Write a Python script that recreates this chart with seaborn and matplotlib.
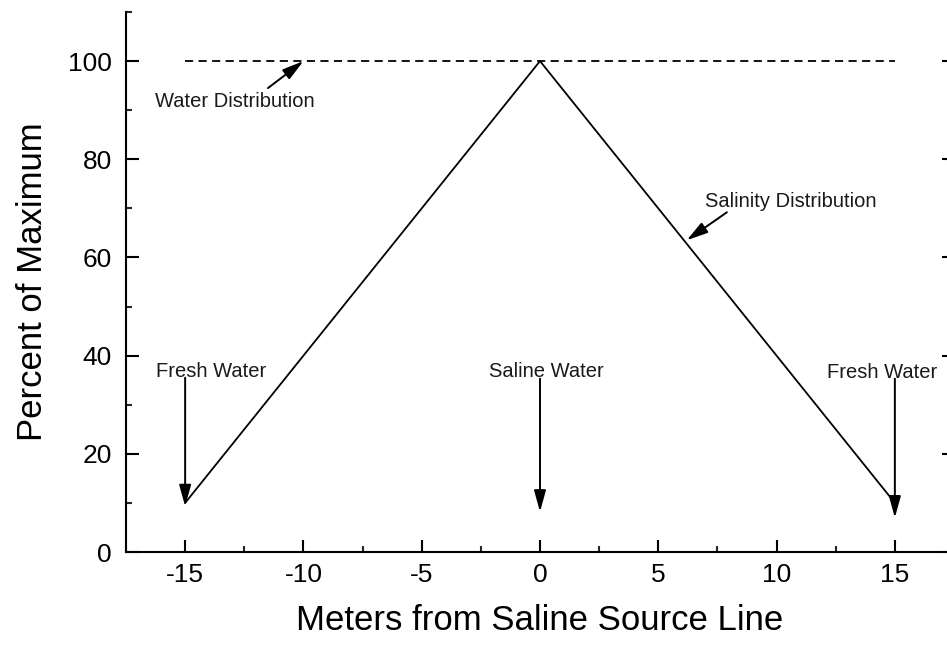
import matplotlib
matplotlib.use("Agg")
import matplotlib.pyplot as plt
from matplotlib.ticker import MultipleLocator
import seaborn as sns
import pandas as pd

# data
distance = [-15, 0, 15]
salinity = [10, 100, 10]
water = [100, 100, 100]
x_ticks = [-15, -10, -5, 0, 5, 10, 15]
y_ticks = [0, 20, 40, 60, 80, 100]

sns.set_theme(style="ticks")
plt.rcParams['font.family'] = ['Liberation Sans', 'DejaVu Sans']

df = pd.DataFrame({"x": distance, "salinity": salinity, "water": water})

fig = plt.figure(figsize=(9.47, 6.48), dpi=100)
ax = fig.add_axes([126/947, 1-552/648, (954-126)/947, (552-12)/648])

sns.lineplot(data=df, x="x", y="salinity", ax=ax, color="black", lw=1.3)
sns.lineplot(data=df, x="x", y="water", ax=ax, color="black", lw=1.3,
             linestyle=(0, (4.5, 3)))

ax.set_xlim(-17.5, 17.5)
ax.set_ylim(0, 110)
ax.set_xticks(x_ticks)
ax.set_yticks(y_ticks)
ax.xaxis.set_minor_locator(MultipleLocator(2.5))
ax.yaxis.set_minor_locator(MultipleLocator(10))
ax.set_xticklabels([str(v) for v in x_ticks])
ax.set_yticklabels([str(v) for v in y_ticks])

for s in ["left", "bottom", "right"]:
    ax.spines[s].set_linewidth(1.5)
    ax.spines[s].set_color("black")
ax.spines["top"].set_visible(False)

ax.tick_params(which="major", direction="in", length=9, width=1.5, labelsize=19,
               colors="black", left=True, bottom=True, right=True, top=False, pad=8)
ax.tick_params(which="minor", direction="in", length=4.5, width=1.5,
               left=True, bottom=True, right=False, top=False)
ax.tick_params(axis="y", which="major", pad=10)

ax.set_xlabel("Meters from Saline Source Line", fontsize=25, labelpad=12, color="black")
ax.set_ylabel("Percent of Maximum", fontsize=25, labelpad=14, color="black")

ap = dict(arrowstyle="-|>,head_length=0.72,head_width=0.2", color="black", lw=1.4,
          mutation_scale=18, shrinkA=0, shrinkB=0)
fs = 14.5
tc = "#1a1a1a"
ax.annotate("", xy=(-10, 100), xytext=(-11.5, 94.5), arrowprops=ap)
ax.text(-12.9, 91.7, "Water Distribution", fontsize=fs, ha="center", va="center", color=tc)

ax.annotate("", xy=(6.2, 63.5), xytext=(7.9, 69.2), arrowprops=ap)
ax.text(10.6, 71.3, "Salinity Distribution", fontsize=fs, ha="center", va="center", color=tc)

ax.annotate("", xy=(-15, 9.3), xytext=(-15, 35.5), arrowprops=ap)
ax.text(-13.9, 36.8, "Fresh Water", fontsize=fs, ha="center", va="center", color=tc)

ax.annotate("", xy=(0, 8.2), xytext=(0, 35.3), arrowprops=ap)
ax.text(0.25, 36.8, "Saline Water", fontsize=fs, ha="center", va="center", color=tc)

ax.annotate("", xy=(15, 7.0), xytext=(15, 35.3), arrowprops=ap)
ax.text(14.45, 36.5, "Fresh Water", fontsize=fs, ha="center", va="center", color=tc)

fig.savefig("out.png", dpi=100)
